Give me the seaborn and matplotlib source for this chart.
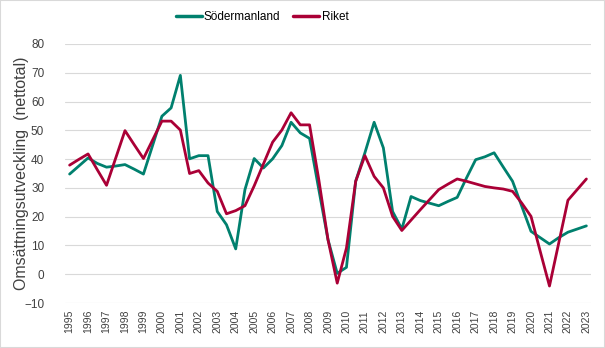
import matplotlib
matplotlib.use("Agg")
import matplotlib.pyplot as plt
import seaborn as sns
import pandas as pd
from matplotlib.patches import Rectangle

# Half-year periods 1995 .. 2023
perioder = [1995 + 0.5 * i for i in range(57)]
ar = list(range(1995, 2024))

sodermanland = [
    34.8, 37.6, 40.4, 38.5, 37.2, 37.6, 38.1, 36.5, 34.8, 44.8,
    54.9, 57.8, 69.1, 40.1, 41.2, 41.2, 21.8, 17.2, 8.8, 29.4,
    40.2, 36.9, 40.1, 44.7, 52.8, 49.1, 47.2, 29.5, 12.0, 0.3,
    2.4, 32.3, 42.2, 52.8, 43.9, 21.8, 15.7, 27.0, 25.6, 24.7,
    23.8, 25.3, 26.7, 33.4, 39.8, 40.8, 42.2, 37.2, 32.3, 23.6,
    14.9, 12.7, 10.5, 12.7, 14.6, 15.7, 16.8,
]
riket = [
    37.9, 39.9, 41.8, 36.3, 30.9, 40.4, 49.9, 45.0, 40.2, 46.7,
    53.2, 53.2, 50.1, 35.0, 36.0, 31.7, 28.8, 21.0, 22.1, 23.8,
    30.7, 38.3, 45.9, 50.1, 56.1, 51.9, 51.9, 32.9, 12.0, -3.1,
    9.1, 32.3, 41.2, 34.0, 30.0, 20.1, 15.2, 18.8, 22.4, 25.9,
    29.4, 31.3, 33.1, 32.3, 31.4, 30.5, 30.0, 29.6, 28.8, 24.7,
    20.1, 7.9, -4.1, 10.8, 25.7, 29.4, 33.1,
]

serier = ["Södermanland", "Riket"]
farger = ["#00806E", "#AA0036"]

df = pd.DataFrame({
    "period": perioder * 2,
    "varde": sodermanland + riket,
    "serie": [serier[0]] * len(perioder) + [serier[1]] * len(perioder),
})

sns.set_theme(style="white")
plt.rcParams["font.family"] = ["Liberation Sans", "DejaVu Sans"]

fig = plt.figure(figsize=(6.05, 3.48), dpi=100)
ax = fig.add_axes([65 / 605, 1 - 303 / 348, (591 - 65) / 605, (303 - 44) / 348])

sns.lineplot(data=df, x="period", y="varde", hue="serie", hue_order=serier,
             palette=farger, linewidth=2.0, ax=ax, legend=True, sort=False)

ax.set_xlim(1994.75, 2023.25)
ax.set_ylim(-10, 80)
ax.set_yticks(range(-10, 81, 10))
ax.set_xticks(ar)
ax.set_xticklabels([str(a) for a in ar], rotation=90, fontsize=7.5, color="#404040")
ax.tick_params(axis="x", length=0, pad=5)
ax.tick_params(axis="y", length=3, width=0.8, color="#D9D9D9", pad=12,
               labelsize=8.5, labelcolor="#404040")
ax.yaxis.grid(True, color="#D9D9D9", linewidth=0.8)
ax.set_axisbelow(True)
for s in ax.spines.values():
    s.set_visible(False)

ax.set_xlabel("")
ax.set_ylabel("Omsättningsutveckling  (nettotal)", fontsize=11.5, color="#404040")
ax.yaxis.set_label_coords((29 - 65) / 526, 0.5)

handles, labels = ax.get_legend_handles_labels()
ax.legend(handles, labels, loc="center", bbox_to_anchor=(262 / 605, 1 - 17 / 348),
          bbox_transform=fig.transFigure, ncol=2, frameon=False, fontsize=8.5,
          handlelength=2.2, handletextpad=0.2, columnspacing=1.1,
          labelcolor="#000000")
for line in ax.get_legend().get_lines():
    line.set_linewidth(2.5)

fig.patches.append(Rectangle((0, 0), 1, 1, transform=fig.transFigure, fill=False,
                             edgecolor="#D9D9D9", linewidth=1.5))

fig.savefig("out.png", dpi=100)
